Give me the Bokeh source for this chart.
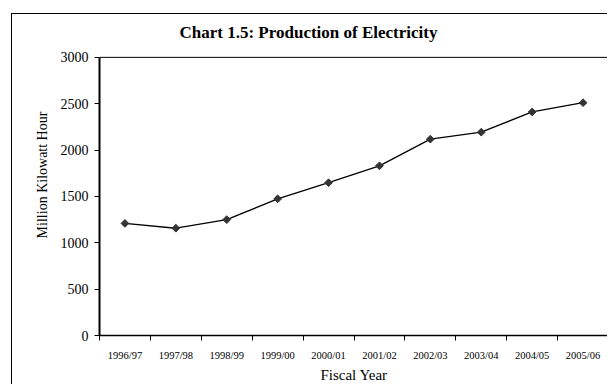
import numpy as np
from bokeh.plotting import figure
from bokeh.models import Range1d, FixedTicker, Span, Label
from bokeh.embed import file_html
from bokeh.resources import INLINE

years = ["1996/97", "1997/98", "1998/99", "1999/00", "2000/01",
         "2001/02", "2002/03", "2003/04", "2004/05", "2005/06"]
production = [1209, 1157, 1250, 1474, 1648, 1830, 2118, 2193, 2411, 2511]
y_ticks = [0, 500, 1000, 1500, 2000, 2500, 3000]
title_text = "Chart 1.5: Production of Electricity"

FONT = "Liberation Serif"
Y_MAX = 3000
# frame runs up to the chart border; the plot area itself stops at Y_MAX
Y_TOP = Y_MAX * 322 / 279

xpos = list(range(1, len(years) + 1))

p = figure(width=596, height=371,
           x_range=Range1d(0.5, len(years) + 0.5),
           y_range=Range1d(0, Y_TOP),
           output_backend="svg", toolbar_location=None,
           min_border_left=87, min_border_right=0,
           min_border_top=0, min_border_bottom=48)
p.margin = (13, 0, 0, 11)
p.styles = {"border-left": "1px solid black", "border-top": "1px solid black"}

p.outline_line_color = None
p.xgrid.visible = False
p.ygrid.visible = False
p.background_fill_color = "white"
p.border_fill_color = "white"

# chart title placed above the plot area
p.add_layout(Label(x=0.5, y=Y_MAX, x_offset=80, y_offset=25, text=title_text,
                   text_font=FONT, text_font_size="17px", text_font_style="bold",
                   text_color="black", text_align="left", text_baseline="alphabetic"))

# y axis
ya = p.yaxis[0]
ya.ticker = FixedTicker(ticks=y_ticks)
ya.bounds = (0, Y_MAX)
ya.axis_label = "Million Kilowatt Hour"
ya.axis_label_text_font = FONT
ya.axis_label_text_font_size = "14px"
ya.axis_label_text_font_style = "normal"
ya.axis_label_text_color = "black"
ya.axis_label_standoff = 8
ya.major_label_text_font = FONT
ya.major_label_text_font_size = "14px"
ya.major_label_text_color = "black"
ya.major_label_standoff = 6
ya.major_tick_out = 5
ya.major_tick_in = 0
ya.minor_tick_out = 0
ya.minor_tick_in = 0
ya.axis_line_width = 2
ya.axis_line_color = "black"
ya.major_tick_line_color = "black"

# x axis: labels at category centers, ticks at category boundaries
xa = p.xaxis[0]
xa.ticker = FixedTicker(ticks=xpos, minor_ticks=[x - 0.5 for x in xpos] + [len(years) + 0.5])
xa.major_label_overrides = {x: y for x, y in zip(xpos, years)}
xa.major_label_text_font = FONT
xa.major_label_text_font_size = "10.5px"
xa.major_label_text_color = "black"
xa.major_label_standoff = 9
xa.major_tick_out = 0
xa.major_tick_in = 0
xa.minor_tick_out = 5
xa.minor_tick_in = 0
xa.minor_tick_line_color = "black"
xa.axis_line_width = 1.5
xa.axis_line_color = "black"
xa.axis_label = "Fiscal Year"
xa.axis_label_text_font = FONT
xa.axis_label_text_font_size = "15px"
xa.axis_label_text_font_style = "normal"
xa.axis_label_text_color = "black"
xa.axis_label_standoff = 3

# top border of plot area
p.add_layout(Span(location=Y_MAX, dimension="width", line_color="black", line_width=1))

p.line(xpos, production, line_color="black", line_width=1.3)
p.scatter(xpos, production, marker="square", angle=np.pi / 4, size=5.5,
          fill_color="#333333", line_color="#333333")

open("out.html", "w").write(file_html(p, INLINE))
